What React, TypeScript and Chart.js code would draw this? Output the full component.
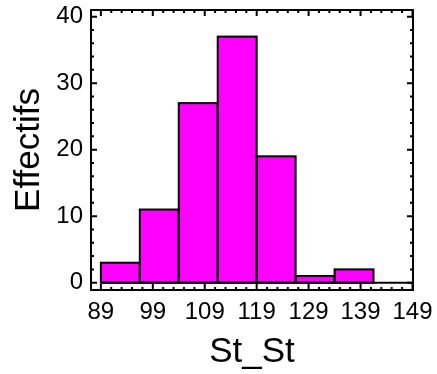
import React, { useEffect, useRef } from 'react';
import { Chart, registerables } from 'chart.js';

Chart.register(...registerables);

// ---- data ----
const binStarts = [89, 96.5, 104, 111.5, 119, 126.5, 134, 141.5];
const binWidth = 7.5;
const counts = [3, 11, 27, 37, 19, 1, 2, 0];
const xTickValues = [89, 99, 109, 119, 129, 139, 149];
const yTickValues = [0, 10, 20, 30, 40];
const xMinorStep = 2;
const yMinorStep = 2;
const xRange = [87.1, 149.1];
const yRange = [-1.1, 41];
const xTitle = 'St_St';
const yTitle = 'Effectifs';

const FONT = "'Liberation Sans', Arial, Helvetica, sans-serif";

const framePlugin = {
  id: 'framePlugin',
  afterDatasetsDraw(chart: any) {
    const { ctx, chartArea: a, scales } = chart;
    const x = scales.x;
    const y = scales.y;
    ctx.save();
    ctx.strokeStyle = '#000';
    ctx.lineCap = 'butt';

    // baseline at zero across the histogram range
    ctx.lineWidth = 2;
    ctx.beginPath();
    ctx.moveTo(x.getPixelForValue(binStarts[0]), y.getPixelForValue(0));
    ctx.lineTo(
      x.getPixelForValue(binStarts[binStarts.length - 1] + binWidth),
      y.getPixelForValue(0)
    );
    ctx.stroke();

    // bar outlines
    const meta = chart.getDatasetMeta(0);
    meta.data.forEach((bar: any, i: number) => {
      if (counts[i] <= 0) return;
      const p = bar.getProps(['x', 'y', 'width', 'base'], true);
      ctx.strokeRect(p.x - p.width / 2, p.y, p.width, p.base - p.y);
    });

    // frame
    ctx.lineWidth = 2;
    ctx.strokeRect(a.left, a.top, a.right - a.left, a.bottom - a.top);

    // ticks (inward, all four sides)
    const major = 6;
    const minor = 3;
    ctx.lineWidth = 2;
    const xMin = x.min, xMax = x.max, yMin = y.min, yMax = y.max;
    const first = xTickValues[0];
    for (let v = first; v <= xMax + 1e-9; v += xMinorStep) {
      if (v < xMin) continue;
      const isMajor = xTickValues.some((t) => Math.abs(t - v) < 1e-6);
      const len = isMajor ? major : minor;
      const px = x.getPixelForValue(v);
      ctx.beginPath();
      ctx.moveTo(px, a.bottom);
      ctx.lineTo(px, a.bottom - len);
      ctx.moveTo(px, a.top);
      ctx.lineTo(px, a.top + len);
      ctx.stroke();
    }
    for (let v = yTickValues[0]; v <= yMax + 1e-9; v += yMinorStep) {
      if (v < yMin) continue;
      const isMajor = yTickValues.some((t) => Math.abs(t - v) < 1e-6);
      const len = isMajor ? major : minor;
      const py = y.getPixelForValue(v);
      ctx.beginPath();
      ctx.moveTo(a.left, py);
      ctx.lineTo(a.left + len, py);
      ctx.moveTo(a.right, py);
      ctx.lineTo(a.right - len, py);
      ctx.stroke();
    }
    ctx.restore();
  },
};

export default function App() {
  const ref = useRef<HTMLCanvasElement>(null);

  useEffect(() => {
    if (!ref.current) return;
    const data = binStarts.map((s, i) => ({ x: s + binWidth / 2, y: counts[i] }));
    const chart = new Chart(ref.current, {
      type: 'bar',
      data: {
        datasets: [
          {
            data: data as any,
            backgroundColor: '#FF00FF',
            borderWidth: 0,
            barPercentage: 1,
            categoryPercentage: 1,
          },
        ],
      },
      plugins: [framePlugin],
      options: {
        animation: false,
        responsive: false,
        devicePixelRatio: 1,
        layout: { padding: { top: 10, right: 24, left: 0, bottom: 0 } },
        plugins: { legend: { display: false }, tooltip: { enabled: false } },
        scales: {
          x: {
            type: 'linear',
            offset: false,
            min: xRange[0],
            max: xRange[1],
            grid: { display: false, drawTicks: false },
            border: { display: false },
            afterBuildTicks: (s: any) => {
              s.ticks = xTickValues.map((v) => ({ value: v }));
            },
            afterFit: (s: any) => {
              s.height = 84;
              s.paddingLeft = 0;
              s.paddingRight = 0;
              s.paddingTop = 0;
              s.paddingBottom = 0;
            },
            ticks: {
              autoSkip: false,
              maxRotation: 0,
              minRotation: 0,
              padding: 8,
              color: '#000',
              font: { family: FONT, size: 24 },
              callback: (v: any) => String(v),
            },
            title: {
              display: true,
              text: xTitle,
              color: '#000',
              font: { family: FONT, size: 35 },
              padding: { top: 0, bottom: 1 },
            },
          },
          y: {
            type: 'linear',
            min: yRange[0],
            max: yRange[1],
            grid: { display: false, drawTicks: false },
            border: { display: false },
            afterBuildTicks: (s: any) => {
              s.ticks = yTickValues.map((v) => ({ value: v }));
            },
            afterFit: (s: any) => {
              s.width = 91;
              s.paddingLeft = 0;
              s.paddingRight = 0;
              s.paddingTop = 0;
              s.paddingBottom = 0;
            },
            ticks: {
              padding: 8,
              color: '#000',
              font: { family: FONT, size: 24 },
              callback: (v: any) => String(v),
            },
            title: {
              display: true,
              text: yTitle,
              color: '#000',
              font: { family: FONT, size: 35 },
              padding: { top: 8, bottom: 0 },
            },
          },
        },
      },
    });
    return () => chart.destroy();
  }, []);

  return (
    <div style={{ position: 'fixed', left: 0, top: 0, width: 437, height: 374, background: '#fff' }}>
      <canvas ref={ref} width={437} height={374} style={{ width: 437, height: 374, display: 'block' }} />
    </div>
  );
}
